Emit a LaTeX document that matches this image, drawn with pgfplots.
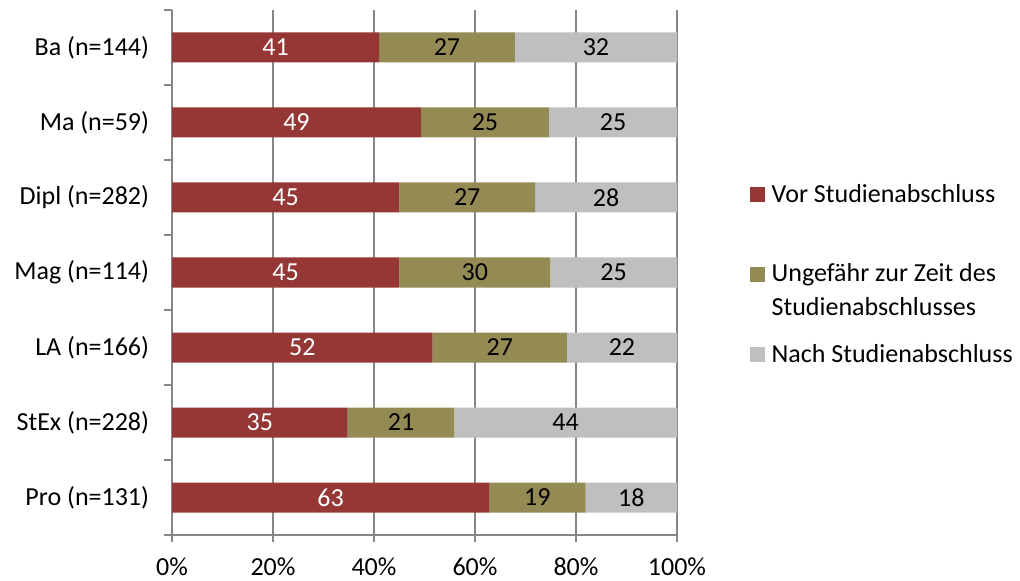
\documentclass[border=0pt]{standalone}
\usepackage{fontspec}
\setmainfont{Carlito}
\usepackage{pgfplots}
\usepackage{pgfplotstable}
\pgfplotsset{compat=1.18}
\definecolor{cRed}{RGB}{149,55,53}
\definecolor{cOlive}{RGB}{148,138,84}
\definecolor{cGray}{RGB}{191,191,191}
\definecolor{cAxis}{RGB}{134,134,134}
\pgfplotstableread{
idx a b c
0 41.0 26.9 32.1
1 49.3 25.35 25.35
2 45.0 26.9 28.1
3 45.0 29.9 25.1
4 51.6 26.6 21.8
5 34.8 21.1 44.1
6 62.8 19.1 18.1
}\data
\pgfplotsset{
  common/.style={
    scale only axis, width=378.75pt, height=393.75pt,
    at={(129pt,34.5pt)}, anchor=south west,
    xmin=0, xmax=100, ymin=-0.5, ymax=6.5, y dir=reverse,
  }
}
\begin{document}
\begin{tikzpicture}[font=\fontsize{19.5}{25.5}\selectfont]
\path[use as bounding box] (0,0) rectangle (765pt,435.75pt);
\begin{axis}[common,
  xbar stacked, bar width=0.4,
  axis lines*=left,
  axis line style={draw=cAxis, line width=1.1pt},
  xtick={0,20,...,100},
  xticklabels={0\%,20\%,40\%,60\%,80\%,100\%},
  xmajorgrids, grid style={draw=cAxis, line width=1.1pt},
  ytick={0,...,6},
  yticklabels={Ba (n=144),Ma (n=59),Dipl (n=282),Mag (n=114),LA (n=166),StEx (n=228),Pro (n=131)},
  minor ytick={-0.5,0.5,...,6.5},
  tick align=outside,
  major tick length=5.5pt, minor tick length=6pt,
  tick style={draw=cAxis, line width=1.1pt},
  every major y tick/.append style={draw=none},
  xticklabel style={anchor=base, inner sep=0pt, yshift=-25pt},
  yticklabel style={anchor=east, inner sep=0pt, xshift=-11.5pt},
  legend style={draw=none, fill=none, at={(axis description cs:1.14455,0.67181)}, anchor=north west,
     inner sep=0pt, outer sep=0pt, row sep=0pt, column sep=5pt,
     nodes={inner sep=0pt, outer sep=0pt, text depth={}, text height={}}, cells={anchor=base west}},
  legend image code/.code={\fill[#1] (0pt,0pt) rectangle (11.25pt,11.25pt);},
]
\addplot[fill=cRed, draw=none] table[x=a, y=idx] {\data};
\addlegendentry{Vor Studienabschluss\rule[-44.55pt]{0pt}{59.55pt}}
\addplot[fill=cOlive, draw=none] table[x=b, y=idx] {\data};
\addlegendentry{\vtop{\hbox{\rule{0pt}{15pt}Ungefähr zur Zeit des}\hbox{Studienabschlusses\rule[-19.95pt]{0pt}{19.95pt}}}}
\addplot[fill=cGray, draw=none] table[x=c, y=idx] {\data};
\addlegendentry{\rule{0pt}{15pt}Nach Studienabschluss}
\end{axis}
\begin{axis}[common, hide axis, /pgf/number format/assume math mode=true,
  nodes near coords={\pgfmathprintnumber[fixed,precision=0]{\pgfplotspointmeta}},
  every node near coord/.append style={anchor=center, inner sep=0pt},
  point meta=explicit]
\addplot[draw=none, mark=none, every node near coord/.append style={text=white}]
  table[x expr=\thisrow{a}/2, y=idx, meta=a] {\data};
\addplot[draw=none, mark=none, every node near coord/.append style={text=black}]
  table[x expr=\thisrow{a}+\thisrow{b}/2, y=idx, meta=b] {\data};
\addplot[draw=none, mark=none, every node near coord/.append style={text=black}]
  table[x expr=\thisrow{a}+\thisrow{b}+\thisrow{c}/2, y=idx, meta=c] {\data};
\end{axis}
\end{tikzpicture}
\end{document}
